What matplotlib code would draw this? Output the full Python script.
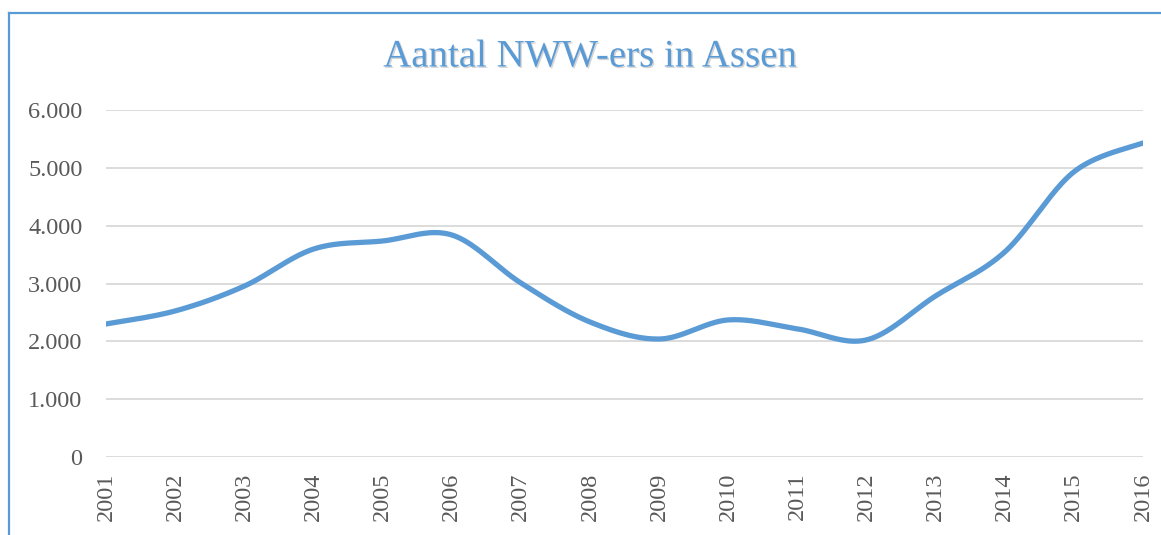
import numpy as np
import matplotlib.pyplot as plt
from matplotlib.lines import Line2D
import matplotlib.patheffects as pe
from matplotlib.ticker import FuncFormatter

years = [2001, 2002, 2003, 2004, 2005, 2006, 2007, 2008,
         2009, 2010, 2011, 2012, 2013, 2014, 2015, 2016]
nww = [2300, 2525, 2955, 3595, 3735, 3840, 3010, 2335,
       2040, 2370, 2215, 2025, 2785, 3545, 4930, 5430]

blue = '#5B9BD5'
grey = '#595959'
plt.rcParams['font.family'] = ['Liberation Serif', 'DejaVu Serif']


def smooth(xs, ys, n=40):
    # Excel-like smoothed line: Bezier segments with Catmull-Rom control points
    p = np.column_stack([xs, ys]).astype(float)
    p = np.vstack([p[0], p, p[-1]])
    out = []
    t = np.linspace(0, 1, n)[:, None]
    for i in range(1, len(p) - 2):
        a, b = p[i], p[i + 1]
        c1 = a + (p[i + 1] - p[i - 1]) / 6
        c2 = b - (p[i + 2] - p[i]) / 6
        seg = ((1 - t) ** 3) * a + 3 * ((1 - t) ** 2) * t * c1 + 3 * (1 - t) * t ** 2 * c2 + t ** 3 * b
        out.append(seg if i == 1 else seg[1:])
    out = np.vstack(out)
    return out[:, 0], out[:, 1]


fig = plt.figure(figsize=(11.61, 5.35), dpi=100)
ax = fig.add_axes([106 / 1161, 1 - 457 / 535, (1143 - 106) / 1161, (457 - 110) / 535])

sx, sy = smooth(years, nww)
ax.plot(sx, sy, color=blue, linewidth=3.8, solid_capstyle='round', zorder=3)

ax.set_xlim(2001, 2016)
ax.set_ylim(0, 6000)
ax.set_yticks(range(0, 6001, 1000))
ax.set_xticks(years)
ax.set_xticklabels([str(y) for y in years], rotation=90)
ax.yaxis.set_major_formatter(FuncFormatter(lambda v, _: f'{int(v):,}'.replace(',', '.')))
ax.grid(axis='y', color='#D9D9D9', linewidth=1.3)
ax.grid(axis='x', visible=False)
ax.set_axisbelow(True)
for s in ax.spines.values():
    s.set_visible(False)
ax.tick_params(axis='both', length=0, labelsize=17.5, labelcolor=grey)
ax.tick_params(axis='y', pad=17)
ax.tick_params(axis='x', pad=11)
for lab in ax.get_xticklabels():
    lab.set_verticalalignment('top')

fig.text(590 / 1161, 1 - 57 / 535, 'Aantal NWW-ers in Assen', ha='center', va='center',
         fontsize=28, color=blue,
         path_effects=[pe.withSimplePatchShadow(offset=(1, -1), shadow_rgbFace='#888888', alpha=0.35)])

# chart frame (extends beyond the picture on right and bottom)
fig.add_artist(Line2D([9 / 1161, 9 / 1161], [0, 1 - 13 / 535], color=blue, linewidth=1.6))
fig.add_artist(Line2D([9 / 1161, 1], [1 - 13 / 535, 1 - 13 / 535], color=blue, linewidth=1.6))

fig.savefig('out.png', dpi=100)
